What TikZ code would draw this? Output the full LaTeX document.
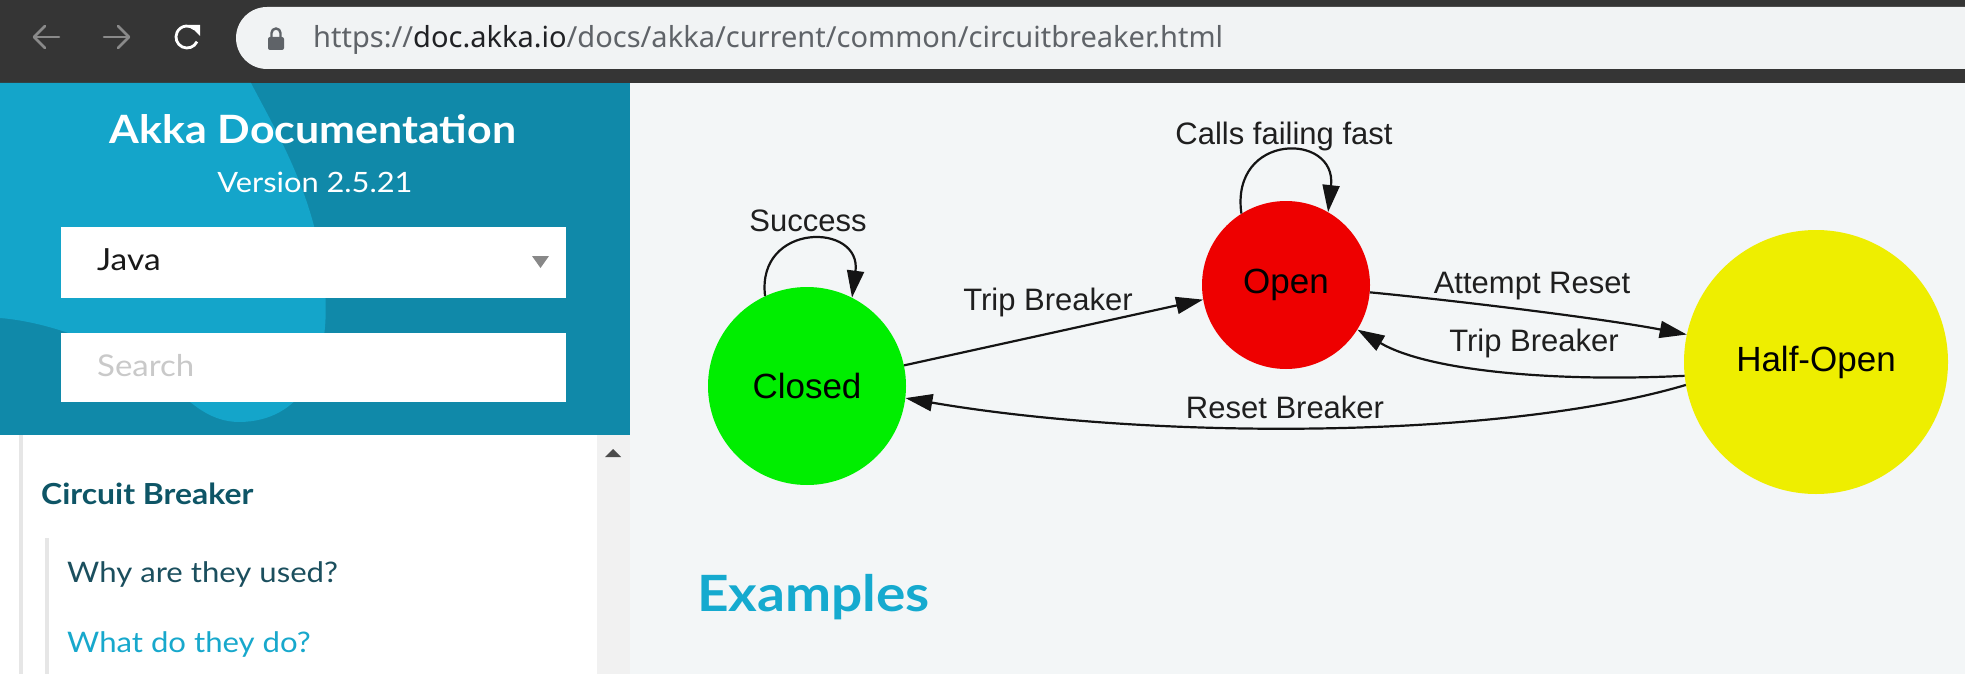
\documentclass[tikz,border=0pt]{standalone}
\usepackage{fontspec}
\setmainfont{Lato}
\newfontfamily\lato[FakeStretch=1.1]{Lato}
\newfontfamily\gv{Liberation Sans}
\newfontfamily\urlf{Noto Sans}
\usetikzlibrary{arrows.meta}
\definecolor{topbar}{HTML}{353535}
\definecolor{urlpill}{HTML}{F1F3F4}
\definecolor{urlgray}{HTML}{5F6368}
\definecolor{urlblack}{HTML}{202124}
\definecolor{navgray}{HTML}{8A8A8A}
\definecolor{headlight}{HTML}{14A5CA}
\definecolor{headdark}{HTML}{1089A9}
\definecolor{contentbg}{HTML}{F3F6F7}
\definecolor{scrollbg}{HTML}{F1F1F1}
\definecolor{linegray}{HTML}{E6E6E6}
\definecolor{tealdark}{HTML}{0E5566}
\definecolor{tealtext}{HTML}{1B4F5E}
\definecolor{linkblue}{HTML}{17A8CC}
\definecolor{exblue}{HTML}{15AACF}
\definecolor{tri}{HTML}{888888}
\definecolor{placeholder}{HTML}{C9C9C9}
\definecolor{gvgreen}{HTML}{00EE00}
\definecolor{gvred}{HTML}{EE0000}
\definecolor{gvyellow}{HTML}{EEEE00}
\tikzset{
  state/.style={circle, inner sep=0pt, text=black, font=\gv\fontsize{35}{35}\selectfont},
  elabel/.style={inner sep=0pt, anchor=base, text=black!88, font=\gv\fontsize{31}{31}\selectfont},
  edge/.style={draw=black!92, line width=2.2pt, -{Triangle[length=27pt,width=17pt]}},
  sidetext/.style={inner sep=0pt, anchor=base west},
  navarrow/.style={draw=navgray, line width=2.6pt, line cap=round, line join=round},
}
\begin{document}
\begin{tikzpicture}[x=1pt,y=-1pt]
\useasboundingbox (0,0) rectangle (1965,674);
% backgrounds
\fill[contentbg] (629,83) rectangle (1965,674);
\fill[topbar] (0,0) rectangle (1965,83);
% url pill
\fill[urlpill] (1965,7) -- (267,7) arc[start angle=270, end angle=90, radius=31] -- (1965,69) -- cycle;
% back / forward arrows
\draw[navarrow] (34,37) -- (59,37);
\draw[navarrow] (45,26) -- (34,37) -- (45,48);
\draw[navarrow] (104,37) -- (129,37);
\draw[navarrow] (118,26) -- (129,37) -- (118,48);
% reload
\draw[white, line width=2.8pt] (187,37) ++(25:11) arc[start angle=25, end angle=312, radius=11];
\fill[white] (189,25) -- (200,25) -- (200,36) -- cycle;
% lock
\draw[urlgray, line width=2.4pt] (271.5,38) -- (271.5,33) arc[start angle=180, end angle=360, radius=4.5] -- (280.5,38);
\fill[urlgray, rounded corners=2pt] (268,37) rectangle (284,50);
% url text
\node[sidetext] (url) at (313,48) {\urlf\fontsize{29}{29}\selectfont\resizebox{910pt}{!}{\textcolor{urlgray}{https://}\textcolor{urlblack}{doc.akka.io}\textcolor{urlgray}{/docs/akka/current/common/circuitbreaker.html}}};
% sidebar header
\fill[headdark] (0,83) rectangle (630,435);
\begin{scope}
\clip (0,83) rectangle (630,435);
\fill[headlight] (0,83) -- (251,83) .. controls (278,135) and (318,200) .. (325,290)
  .. controls (331,370) and (300,421) .. (240,422)
  .. controls (205,422) and (188,398) .. (160,378)
  .. controls (110,345) and (50,322) .. (0,318) -- cycle;
\end{scope}
\node[inner sep=0pt, anchor=base, text=white] (title) at (313,144) {\lato\bfseries\fontsize{39}{39}\selectfont Akka Documentation};
\node[inner sep=0pt, anchor=base, text=white] (version) at (315,193) {\lato\fontsize{28}{28}\selectfont Version 2.5.21};
\fill[white] (61,227) rectangle (566,298);
\node[sidetext, text=black!90] (java) at (97,270) {\lato\fontsize{30.5}{30.5}\selectfont Java};
\fill[tri] (532,256) -- (549,256) -- (540.5,268) -- cycle;
\fill[white] (61,333) rectangle (566,402);
\node[sidetext, text=placeholder] (search) at (97,376) {\lato\fontsize{30}{30}\selectfont Search};
% sidebar lower
\fill[white] (0,435) rectangle (597,674);
\fill[scrollbg] (597,435) rectangle (630,674);
\fill[black!70] (605,457) -- (621,457) -- (613,449) -- cycle;
\fill[linegray] (19,435) rectangle (23,674);
\fill[linegray] (45,538) rectangle (49,674);
\node[sidetext, text=tealdark] (cb) at (41,504) {\lato\bfseries\fontsize{29}{29}\selectfont Circuit Breaker};
\node[sidetext, text=tealtext] (why) at (67,582) {\lato\fontsize{28.3}{28.3}\selectfont Why are they used?};
\node[sidetext, text=linkblue] (what) at (67,652) {\lato\fontsize{28.3}{28.3}\selectfont What do they do?};
% Examples heading
\node[sidetext, text=exblue] (examples) at (697,611) {\lato\bfseries\fontsize{50}{50}\selectfont Examples};
% state diagram
\node[state, fill=gvgreen, minimum size=198pt] (closed) at (807,386) {Closed};
\node[state, fill=gvred, minimum size=168pt] (open) at (1286,285) {Open};
\node[state, fill=gvyellow, minimum size=264pt] (half) at (1816,362) {Half-Open};
\draw[edge] (closed.115) .. controls (756,222) and (862,222) .. (closed.63);
\draw[edge] (open.122) .. controls (1230,132) and (1337,132) .. (open.60);
\draw[edge] (closed.12) -- (open.190);
\draw[edge] (open.-5) .. controls (1450,300) and (1600,318) .. (half.168);
\draw[edge] (half.186) .. controls (1560,382) and (1430,372) .. (open.-32);
\draw[edge] (half.190) .. controls (1500,440) and (1150,440) .. (closed.-7);
\node[elabel] (lsuccess) at (808,231) {Success};
\node[elabel] (lcalls) at (1284,145) {Calls failing fast};
\node[elabel] (ltrip1) at (1048,310) {Trip Breaker};
\node[elabel] (lattempt) at (1532,293) {Attempt Reset};
\node[elabel] (ltrip2) at (1534,351) {Trip Breaker};
\node[elabel] (lreset) at (1285,418) {Reset Breaker};
\end{tikzpicture}
\end{document}
